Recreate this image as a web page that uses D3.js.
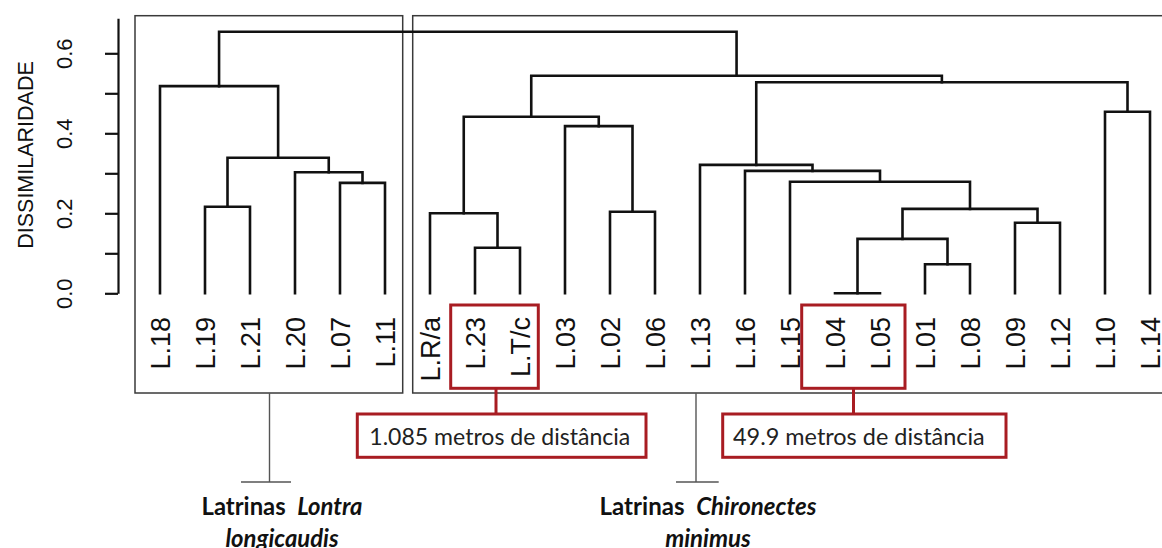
<!DOCTYPE html>
<html>
<head>
<meta charset="utf-8">
<script src="https://cdn.jsdelivr.net/npm/d3@7"></script>
<style>
  html, body { margin: 0; padding: 0; background: #fff; }
  svg { display: block; }
</style>
</head>
<body>
<svg id="chart" width="1162" height="548"></svg>
<script>
// Leaf order along the dendrogram
const leafLabels = ["L.18","L.19","L.21","L.20","L.07","L.11",
  "L.R/a","L.23","L.T/c","L.03","L.02","L.06","L.13","L.16","L.15",
  "L.04","L.05","L.01","L.08","L.09","L.12","L.10","L.14"];

// Agglomeration steps: each joins two members (a leaf or an earlier step "m<k>")
const mergePairs = [
  ["L.04","L.05"],   // m0
  ["L.01","L.08"],   // m1
  ["L.23","L.T/c"],  // m2
  ["m0","m1"],       // m3
  ["L.09","L.12"],   // m4
  ["L.R/a","m2"],    // m5
  ["L.02","L.06"],   // m6
  ["m3","m4"],       // m7
  ["L.19","L.21"],   // m8
  ["L.07","L.11"],   // m9
  ["L.15","m7"],     // m10
  ["L.20","m9"],     // m11
  ["L.16","m10"],    // m12
  ["L.13","m12"],    // m13
  ["m8","m11"],      // m14
  ["L.03","m6"],     // m15
  ["m5","m15"],      // m16
  ["L.10","L.14"],   // m17
  ["L.18","m14"],    // m18
  ["m13","m17"],     // m19
  ["m16","m19"],     // m20
  ["m18","m20"]      // m21
];
// Dissimilarity at which each step joins
const mergeHeights = [0, 0.0725, 0.114, 0.136, 0.1765, 0.2, 0.204, 0.211,
  0.2165, 0.276, 0.279, 0.3025, 0.306, 0.321, 0.339, 0.418, 0.4415,
  0.454, 0.518, 0.5275, 0.544, 0.654];

const yTicks = [0, 0.1, 0.2, 0.3, 0.4, 0.5, 0.6];
const yLabeled = [0, 0.2, 0.4, 0.6];
const yTitle = "DISSIMILARIDADE";

// Highlighted neighbouring pairs and their distance notes
const notePairs = [["L.23","L.T/c"], ["L.04","L.05"]];
const noteTexts = ["1.085 metros de distância", "49.9 metros de distância"];

// Cluster captions
const clusterPrefix = ["Latrinas", "Latrinas"];
const clusterGenus = ["Lontra", "Chironectes"];
const clusterSpecies = ["longicaudis", "minimus"];

const svg = d3.select("#chart");
const x = d3.scalePoint().domain(leafLabels).range([160, 1150]);
const y = d3.scaleLinear().domain([0, 0.6875]).range([293.3, 18.3]);

const RED = "#a81c22";
const INK = "#111";

// Cluster frames
const frames = [
  {x0: 135, x1: 402.7},
  {x0: 412.7, x1: 1164}
];
svg.append("g").selectAll("rect").data(frames).join("rect")
  .attr("x", d => d.x0).attr("y", 15.7)
  .attr("width", d => d.x1 - d.x0).attr("height", 393 - 15.7)
  .attr("fill", "none").attr("stroke", "#3a3a3a").attr("stroke-width", 1.5);

// Build dendrogram nodes
const nodes = new Map();
leafLabels.forEach(l => nodes.set(l, {x: x(l), h: 0}));
const links = [];
mergePairs.forEach((pair, i) => {
  const a = nodes.get(pair[0]), b = nodes.get(pair[1]);
  const h = mergeHeights[i];
  nodes.set("m" + i, {x: (a.x + b.x) / 2, h});
  links.push({a, b, h});
});

svg.append("g")
  .attr("fill", "none").attr("stroke", INK).attr("stroke-width", 2.6)
  .attr("stroke-linecap", "square")
  .selectAll("path").data(links).join("path")
  .attr("d", d => `M${d.a.x},${y(d.a.h)}V${y(d.h)}H${d.b.x}V${y(d.b.h)}`);

// Leaf labels
svg.append("g").selectAll("text").data(leafLabels).join("text")
  .attr("transform", d => `translate(${x(d)},317) rotate(-90)`)
  .attr("text-anchor", "end").attr("dy", "0.36em")
  .attr("font-family", "'Liberation Sans', Arial, sans-serif")
  .attr("font-size", 27).attr("fill", INK)
  .text(d => d);

// Y axis
const axis = d3.axisLeft(y).tickValues(yTicks).tickSize(13).tickSizeOuter(0)
  .tickFormat(d => yLabeled.some(v => Math.abs(v - d) < 1e-9) ? d3.format(".1f")(d) : "");
const gAxis = svg.append("g").attr("transform", "translate(118,0)").call(axis);
gAxis.select(".domain").attr("stroke", INK).attr("stroke-width", 2.2);
gAxis.selectAll(".tick line").attr("stroke", INK).attr("stroke-width", 2.2);
gAxis.selectAll(".tick text")
  .attr("x", null).attr("y", 0).attr("dy", "0.36em")
  .attr("transform", "translate(-53.5,0) rotate(-90)")
  .attr("text-anchor", "middle")
  .attr("font-family", "'Liberation Sans', Arial, sans-serif")
  .attr("font-size", 22).attr("fill", INK);

svg.append("text")
  .attr("transform", "translate(25,155) rotate(-90)")
  .attr("text-anchor", "middle").attr("dy", "0.36em")
  .attr("font-family", "'Liberation Sans', Arial, sans-serif")
  .attr("font-size", 21.5).attr("fill", INK)
  .text(yTitle);

// Highlight boxes around the close pairs, with their distance notes
const noteBoxes = [
  {left: x(notePairs[0][0]) - 24.3, right: x(notePairs[0][1]) + 18.3, lineX: 496,
   nx0: 357.3, nx1: 646, tx: 369.3, tw: 261},
  {left: x(notePairs[1][0]) - 33.3, right: x(notePairs[1][1]) + 25, lineX: 853.5,
   nx0: 722.7, nx1: 1006, tx: 733, tw: 252}
];
const gNotes = svg.append("g");
noteBoxes.forEach((b, i) => {
  gNotes.append("rect")
    .attr("x", b.left).attr("y", 305).attr("width", b.right - b.left).attr("height", 83.3)
    .attr("fill", "none").attr("stroke", RED).attr("stroke-width", 3);
  gNotes.append("line")
    .attr("x1", b.lineX).attr("x2", b.lineX).attr("y1", 388.3).attr("y2", 414)
    .attr("stroke", RED).attr("stroke-width", 3);
  gNotes.append("rect")
    .attr("x", b.nx0).attr("y", 414).attr("width", b.nx1 - b.nx0).attr("height", 43.3)
    .attr("fill", "#fff").attr("stroke", RED).attr("stroke-width", 3);
  const t = gNotes.append("text")
    .attr("x", b.tx).attr("y", 445)
    .attr("font-family", "Lato, 'Open Sans', sans-serif")
    .attr("font-size", 24).attr("fill", "#222")
    .text(noteTexts[i]);
  const w = t.node().getComputedTextLength();
  t.attr("font-size", 24 * b.tw / w);
});

// Cluster captions hanging below each frame
const captions = [
  {lineX: 269.5, cx0: 241, cx1: 291, textX: 282, w1: 161},
  {lineX: 696, cx0: 676, cx1: 718.7, textX: 708, w1: 217}
];
const gCap = svg.append("g");
captions.forEach((c, i) => {
  gCap.append("line").attr("x1", c.lineX).attr("x2", c.lineX)
    .attr("y1", 393).attr("y2", 482).attr("stroke", "#555").attr("stroke-width", 1.4);
  gCap.append("line").attr("x1", c.cx0).attr("x2", c.cx1)
    .attr("y1", 482).attr("y2", 482).attr("stroke", "#555").attr("stroke-width", 1.4);
  const t1 = gCap.append("text")
    .attr("x", c.textX).attr("y", 515).attr("text-anchor", "middle")
    .attr("font-family", "Lato, 'Open Sans', sans-serif").attr("font-weight", "bold")
    .attr("font-size", 24).attr("fill", "#111");
  t1.append("tspan").text(clusterPrefix[i] + "\u00a0 ");
  t1.append("tspan").attr("font-style", "italic").text(clusterGenus[i]);
  const w = t1.node().getComputedTextLength();
  const fs = 24 * c.w1 / w;
  t1.attr("font-size", fs);
  gCap.append("text")
    .attr("x", c.textX).attr("y", 547).attr("text-anchor", "middle")
    .attr("font-family", "Lato, 'Open Sans', sans-serif").attr("font-weight", "bold")
    .attr("font-style", "italic").attr("font-size", fs).attr("fill", "#111")
    .text(clusterSpecies[i]);
});
</script>
</body>
</html>
